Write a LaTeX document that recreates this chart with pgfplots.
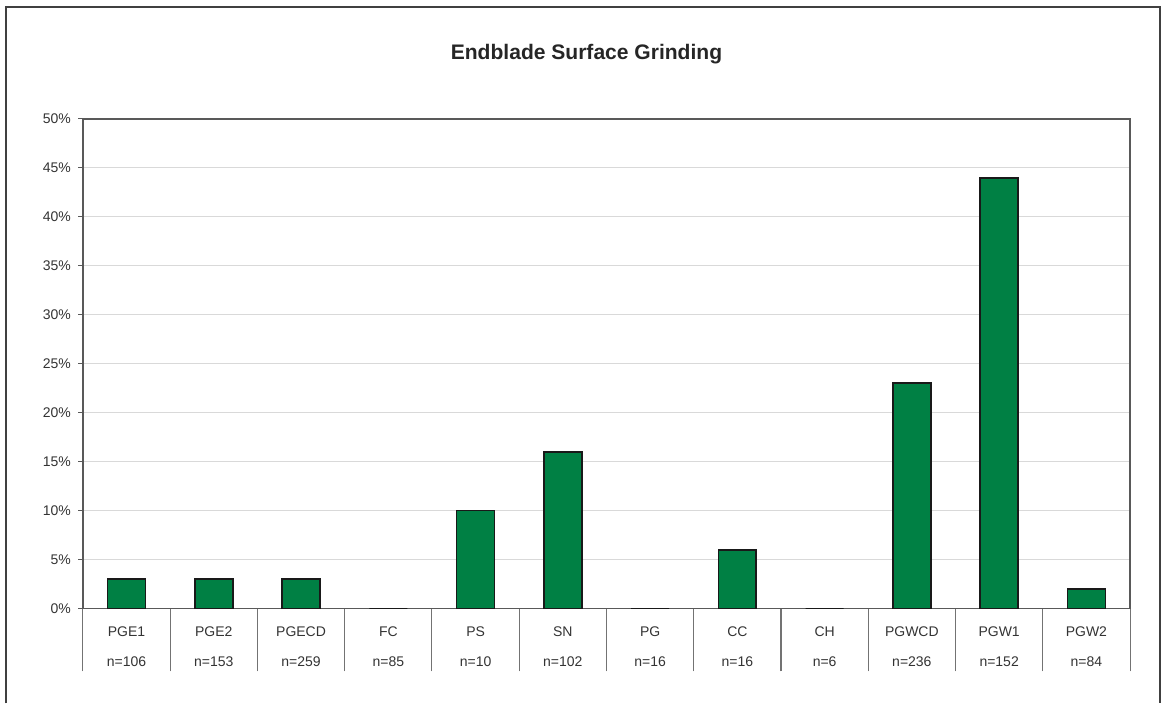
\documentclass[border=0pt]{standalone}
\usepackage{pgfplots}
\pgfplotsset{compat=1.18}
\usepackage{fontspec}
\setmainfont{Liberation Sans}
\definecolor{barg}{RGB}{0,128,68}
\begin{document}
\begin{tikzpicture}
\useasboundingbox (-62.25pt,-71.25pt) rectangle (810.75pt,456.75pt);
\begin{axis}[
  name=ax,
  scale only axis,
  width=786pt, height=367.5pt,
  xmin=-0.5, xmax=11.5, ymin=0, ymax=50,
  ybar, bar width=28.5pt,
  axis line style={black!65, line width=1.1pt},
  tick align=outside,
  xtick pos=bottom, ytick pos=left,
  xtick={0,...,11},
  xticklabels={{PGE1\\n=106},{PGE2\\n=153},{PGECD\\n=259},{FC\\n=85},{PS\\n=10},{SN\\n=102},{PG\\n=16},{CC\\n=16},{CH\\n=6},{PGWCD\\n=236},{PGW1\\n=152},{PGW2\\n=84}},
  xticklabel style={align=center, font=\fontsize{10.5}{22.5}\selectfont, text=black!80, yshift=-6.5pt},
  every major x tick/.style={draw=none},
  minor xtick={-0.5,0.5,...,11.5},
  every minor x tick/.style={black!55, line width=0.8pt},
  minor tick length=47.25pt,
  major tick length=3.5pt,
  every major y tick/.style={black!65, line width=0.8pt},
  ytick={0,5,...,50},
  yticklabel={\pgfmathprintnumber[assume math mode=true]{\tick}\%},
  yticklabel style={font=\fontsize{10.5}{12}\selectfont, text=black!80, xshift=-2pt},
  ymajorgrids,
  major grid style={black!15, line width=0.8pt},
]
\addplot[fill=barg, draw=black!90, line width=1.3pt] coordinates {
(0,3) (1,3) (2,3) (3,0) (4,10) (5,16) (6,0) (7,6) (8,0) (9,23) (10,44) (11,2)
};
\end{axis}
\node[font=\fontsize{15.8}{18}\selectfont\bfseries, text=black!85] at (378pt,416.25pt) {Endblade Surface Grinding};
\draw[black!75, line width=1.2pt] (-57.75pt,-71.25pt) -- (-57.75pt,451.5pt) -- (808.5pt,451.5pt) -- (808.5pt,-71.25pt);
\end{tikzpicture}
\end{document}
